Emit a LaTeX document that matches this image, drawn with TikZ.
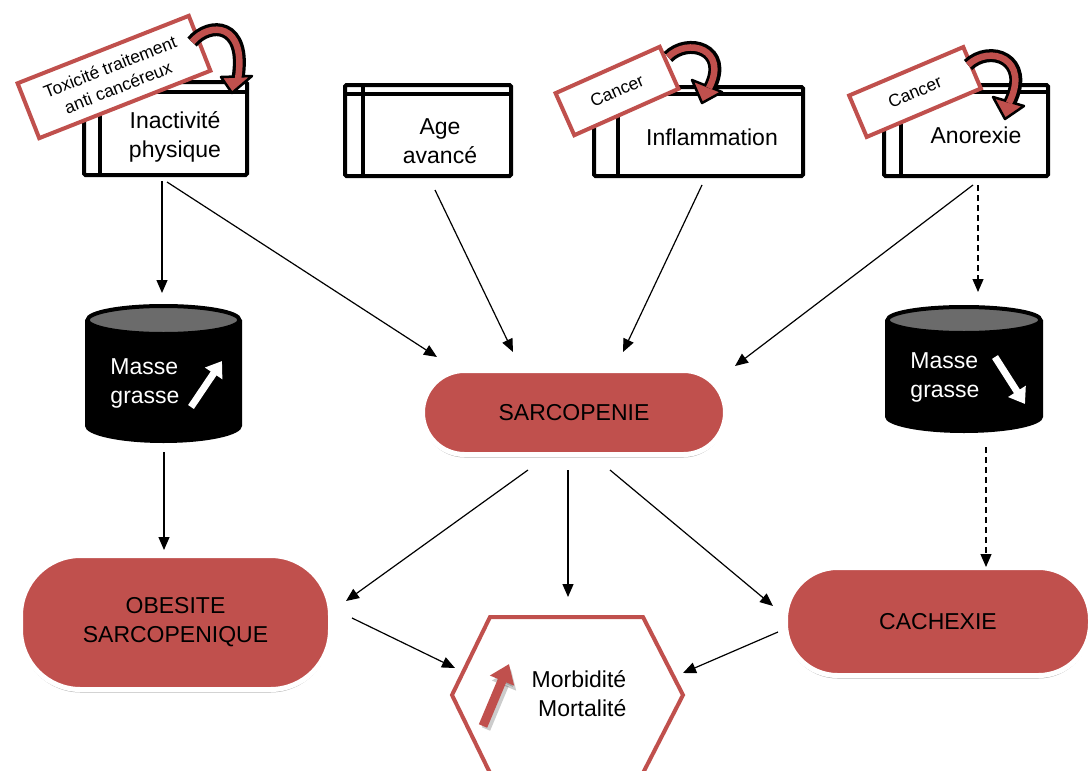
\documentclass[tikz,border=0pt]{standalone}
\usepackage{fontspec}
\setmainfont{Liberation Sans}
\usetikzlibrary{arrows.meta,shadows,calc}
\definecolor{cred}{HTML}{C0504D}
\definecolor{cgray}{HTML}{6B6B6B}
\begin{document}
\begin{tikzpicture}[x=1pt,y=-1pt,
  every node/.style={font=\fontsize{23}{29}\selectfont, text=black, align=center},
  topbox/.style={draw=black, line width=4pt, fill=white, rounded corners=1.5pt, inner sep=0pt},
  boxline/.style={line width=4pt},
  tagbox/.style={draw=cred, line width=4pt, fill=white, inner sep=0pt, font=\fontsize{17.5}{22}\selectfont},
  pill/.style={fill=cred, draw=white, line width=5pt, inner sep=0pt,
     drop shadow={shadow xshift=0pt, shadow yshift=-3pt, opacity=0.3, fill=black}},
  conn/.style={line width=1.2pt, -{Triangle[length=13pt,width=11pt]}},
  dconn/.style={conn, dash pattern=on 6pt off 4pt},
  cbody/.style={line width=13pt, black},
  cbodyin/.style={line width=6.5pt, cred},
  chead/.style={fill=cred, draw=black, line width=2.5pt, line join=round},
  cyl/.style={fill=black},
  cyltop/.style={fill=cgray, draw=black, line width=4pt},
  whitearrow/.style={white, line width=7pt, -{Triangle[length=15pt,width=20pt]}},
  cyltext/.style={text=white, align=left}
]
\useasboundingbox (0,0) rectangle (1090,771);

% ---------- top boxes ----------
\node[topbox, minimum width=163pt, minimum height=93pt] (inact) at (165.5,128.5) {};
\node[topbox, minimum width=166pt, minimum height=91pt] (age) at (428,130.5) {};
\node[topbox, minimum width=209pt, minimum height=89pt] (infl) at (698.5,131.5) {};
\node[topbox, minimum width=164pt, minimum height=91pt] (anor) at (966,130.5) {};

\draw[boxline] ($(inact.north west)+(0,12)$) -- ($(inact.north east)+(0,12)$);
\draw[boxline] ($(inact.north west)+(18,0)$) -- ($(inact.south west)+(18,0)$);
\draw[boxline] ($(age.north west)+(0,11)$) -- ($(age.north east)+(0,11)$);
\draw[boxline] ($(age.north west)+(20,0)$) -- ($(age.south west)+(20,0)$);
\draw[boxline] ($(infl.north west)+(0,9)$) -- ($(infl.north east)+(0,9)$);
\draw[boxline] ($(infl.north west)+(26,0)$) -- ($(infl.south west)+(26,0)$);
\draw[boxline] ($(anor.north west)+(0,9)$) -- ($(anor.north east)+(0,9)$);
\draw[boxline] ($(anor.north west)+(19,0)$) -- ($(anor.south west)+(19,0)$);

\node (inactT) at (175,137) {Inactivité\\physique};
\node (ageT) at (440,141) {Age\\avancé};
\node (inflT) at (712,137) {Inflammation};
\node (anorT) at (976,135) {Anorexie};

% ---------- tags ----------
\node[tagbox, rotate=21.5, minimum width=184pt, minimum height=59pt, align=center] (tag1) at (114,77) {Toxicité traitement\\anti cancéreux};
\node[tagbox, rotate=24, minimum width=114pt, minimum height=46pt] (tag2) at (617,91) {Cancer};
\node[tagbox, rotate=23, minimum width=124pt, minimum height=45pt] (tag3) at (915,92) {Cancer};

% ---------- curved arrows ----------
\draw[cbody] (192,42) .. controls (210,21) and (247,23) .. (238,78);
\filldraw[chead] (221,77) -- (252,76) -- (232,93) -- cycle;
\draw[cbodyin] (192,42) .. controls (210,21) and (247,23) .. (238,79);

\draw[cbody] (668,57) .. controls (688,37) and (729,49) .. (710,87);
\filldraw[chead] (692,80) -- (722,92) -- (702,103) -- cycle;
\draw[cbodyin] (668,57) .. controls (688,37) and (729,49) .. (709,88);

\draw[cbody] (968,65) .. controls (990,44) and (1031,59) .. (1010,102);
\filldraw[chead] (993,97) -- (1024,106) -- (1005,119) -- cycle;
\draw[cbodyin] (968,65) .. controls (990,44) and (1031,59) .. (1009,103);

% ---------- cylinders ----------
\fill[cyl] (85,320) -- (85,426) arc[start angle=180, end angle=0, x radius=78.5, y radius=17] -- (242,320) -- cycle;
\draw[cyltop] (163.5,320) ellipse[x radius=76, y radius=14];
\node[cyltext] (mg1) at (145,383) {Masse\\grasse};
\draw[whitearrow] (191,407) -- (222,361);

\fill[cyl] (885,320) -- (885,417) arc[start angle=180, end angle=0, x radius=79, y radius=16] -- (1043,320) -- cycle;
\draw[cyltop] (964,320) ellipse[x radius=76.5, y radius=13];
\node[cyltext] (mg2) at (945,377) {Masse\\grasse};
\draw[whitearrow] (995,357) -- (1025,404);

% ---------- pills ----------
\node[pill, minimum width=303pt, minimum height=84pt, rounded corners=42pt] (sarco) at (574,412.5) {SARCOPENIE};
\node[pill, minimum width=310pt, minimum height=134pt, rounded corners=60pt] (obes) at (175.5,622.5) {OBESITE\\SARCOPENIQUE};
\node[pill, minimum width=305pt, minimum height=108pt, rounded corners=52pt] (cach) at (938,621.5) {CACHEXIE};

% ---------- hexagon ----------
\draw[cred, line width=4pt, fill=white] (490,617) -- (643,617) -- (683,695) -- (643,773) -- (490,773) -- (452,695) -- cycle;
\node[align=right] (morb) at (579,694) {Morbidité\\Mortalité};
\draw[black, opacity=0.2, line width=9pt, -{Triangle[length=18pt,width=25pt]}] (486,729) -- (511,669);
\draw[cred, line width=9pt, -{Triangle[length=18pt,width=25pt]}] (483,726) -- (509,664);

% ---------- connector end points ----------
\coordinate (a1) at (162,181); \coordinate (b1) at (162,293);
\coordinate (a2) at (167,182); \coordinate (b2) at (437,357);
\coordinate (a3) at (435,190); \coordinate (b3) at (513,352);
\coordinate (a4) at (702,185); \coordinate (b4) at (623,352);
\coordinate (a5) at (973,185); \coordinate (b5) at (735,366);
\coordinate (a6) at (978,185); \coordinate (b6) at (978,292);
\coordinate (a7) at (164,452); \coordinate (b7) at (164,550);
\coordinate (a8) at (986,447); \coordinate (b8) at (986,567);
\coordinate (a9) at (528,470); \coordinate (b9) at (346,601);
\coordinate (a10) at (568,470); \coordinate (b10) at (568,597);
\coordinate (a11) at (610,470); \coordinate (b11) at (773,606);
\coordinate (a12) at (352,618); \coordinate (b12) at (455,668);
\coordinate (a13) at (778,632); \coordinate (b13) at (683,673);

\draw[conn] (a1) -- (b1);
\draw[conn] (a2) -- (b2);
\draw[conn] (a3) -- (b3);
\draw[conn] (a4) -- (b4);
\draw[conn] (a5) -- (b5);
\draw[dconn] (a6) -- (b6);
\draw[conn] (a7) -- (b7);
\draw[dconn] (a8) -- (b8);
\draw[conn] (a9) -- (b9);
\draw[conn] (a10) -- (b10);
\draw[conn] (a11) -- (b11);
\draw[conn] (a12) -- (b12);
\draw[conn] (a13) -- (b13);
\end{tikzpicture}
\end{document}
